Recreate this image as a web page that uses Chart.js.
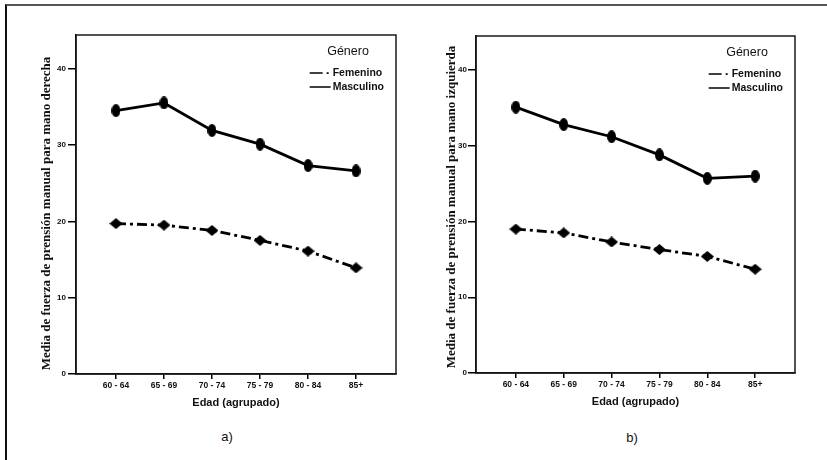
<!DOCTYPE html>
<html><head><meta charset="utf-8">
<script src="https://cdn.jsdelivr.net/npm/chart.js@4.4.0/dist/chart.umd.min.js"></script>
<style>
body{margin:0;width:827px;height:460px;background:#fff;position:relative;overflow:hidden;font-family:"Liberation Sans",Arial,sans-serif}
#frame{position:absolute;left:5px;top:4px;width:830px;height:470px;border-top:2px solid #555;border-left:2px solid #111}
.wrap{position:absolute}
.cap{position:absolute;font-size:13px;color:#111;transform:translate(-50%,-50%)}
</style></head><body>
<div id="frame"></div>
<div class="wrap" style="left:8px;top:8px;width:404px;height:412px"><canvas id="ca" width="404" height="412"></canvas></div>
<div class="wrap" style="left:416px;top:8px;width:408px;height:412px"><canvas id="cb" width="408" height="412"></canvas></div>
<div class="cap" style="left:227px;top:436px">a)</div>
<div class="cap" style="left:632px;top:437px">b)</div>
<script>
const categories = ['60 - 64','65 - 69','70 - 74','75 - 79','80 - 84','85+'];
const yTicks = [0,10,20,30,40];
const femA = [19.7,19.5,18.8,17.5,16.1,13.9];
const mascA = [34.5,35.5,31.9,30.1,27.3,26.6];
const femB = [19.0,18.5,17.3,16.3,15.4,13.7];
const mascB = [35.1,32.8,31.2,28.8,25.7,26.0];
const seriesNames = ['Femenino','Masculino'];
const legendTitle = 'Género';
const xTitle = 'Edad (agrupado)';
const yTitleA = 'Media de fuerza de prensión manual para mano derecha';
const yTitleB = 'Media de fuerza de prensión manual para mano izquierda';

function marker(w,h,shape){
  const c=document.createElement('canvas');c.width=w;c.height=h;
  const g=c.getContext('2d');g.fillStyle='#000';g.beginPath();
  if(shape==='diamond'){g.moveTo(w/2,0);g.lineTo(w,h/2);g.lineTo(w/2,h);g.lineTo(0,h/2);g.closePath();}
  else{g.ellipse(w/2,h/2,w/2,h/2,0,0,Math.PI*2);}
  g.fill();return c;
}
const diamondImg = marker(13,11,'diamond');
const ellipseImg = marker(9,13,'ellipse');

const boxPlugin = {
  id:'boxlegend',
  afterDraw(chart, args, opts){
    const {ctx, chartArea:a} = chart;
    ctx.save();
    ctx.strokeStyle='#1a1a1a'; ctx.lineWidth=1.5;
    ctx.strokeRect(a.left,a.top,a.right-a.left,a.bottom-a.top);
    // y-axis title
    ctx.save();
    ctx.translate(opts.titleX, opts.titleY);
    ctx.rotate(-Math.PI/2);
    ctx.fillStyle='#111';
    ctx.font='bold 13px "Liberation Serif", "Times New Roman", serif';
    ctx.textAlign='center'; ctx.textBaseline='middle';
    ctx.fillText(opts.text, 0, 0);
    ctx.restore();
    // legend inside plot
    ctx.fillStyle='#111';
    ctx.font='12.5px "Liberation Sans", Arial';
    ctx.textAlign='center'; ctx.textBaseline='middle';
    ctx.fillText(legendTitle, a.right-48, a.top+17);
    ctx.font='bold 10.5px "Liberation Sans", Arial';
    const tw = ctx.measureText(seriesNames[1]).width;
    const tx = a.right-12-tw;
    const sx = tx-23;
    ctx.textAlign='left';
    const rows=[a.top+38,a.top+52];
    ctx.strokeStyle='#000'; ctx.lineWidth=1.5;
    ctx.beginPath(); ctx.moveTo(sx,rows[0]); ctx.lineTo(sx+13,rows[0]); ctx.stroke();
    ctx.fillRect(sx+17,rows[0]-0.8,2,1.8);
    ctx.fillText(seriesNames[0], tx, rows[0]);
    ctx.beginPath(); ctx.moveTo(sx,rows[1]); ctx.lineTo(sx+21,rows[1]); ctx.stroke();
    ctx.fillText(seriesNames[1], tx, rows[1]);
    ctx.restore();
  }
};

function makeChart(id, fem, masc, yTitle, cfg){
  const tickFont = {family:'"Liberation Sans", Arial', size:8.5, weight:'bold'};
  return new Chart(document.getElementById(id), {
    type:'line',
    data:{datasets:[
      {label:seriesNames[0], data:fem.map((v,i)=>({x:i,y:v})), borderColor:'#000', backgroundColor:'#000',
       borderWidth:2.8, borderDash:[10,4,3,4], pointStyle:diamondImg, pointRadius:5, pointHoverRadius:5, fill:false, tension:0},
      {label:seriesNames[1], data:masc.map((v,i)=>({x:i,y:v})), borderColor:'#000', backgroundColor:'#000',
       borderWidth:2.8, pointStyle:ellipseImg, pointRadius:5, pointHoverRadius:5, fill:false, tension:0}
    ]},
    options:{
      responsive:false, animation:false, events:[],
      layout:{padding:{left:0,right:cfg.pr,top:cfg.pt,bottom:cfg.pb}},
      plugins:{legend:{display:false},tooltip:{enabled:false},
               boxlegend:{text:yTitle, titleX:cfg.tx, titleY:cfg.ty}},
      scales:{
        x:{type:'linear', min:-0.833, max:5.833,
           afterBuildTicks:s=>{s.ticks=categories.map((c,i)=>({value:i}));},
           afterFit:s=>{s.height=40;},
           ticks:{callback:(v)=>categories[v], color:'#111', font:tickFont, padding:2, maxRotation:0, autoSkip:false},
           grid:{display:true, drawOnChartArea:false, drawTicks:true, tickLength:5, color:'#000', lineWidth:1.5},
           border:{display:true, color:'#000', width:1.5},
           title:{display:true, text:xTitle, color:'#111', font:{family:'"Liberation Sans", Arial', size:11, weight:'bold'}, padding:{top:0,bottom:4.4}}
        },
        y:{type:'linear', min:0, max:cfg.max,
           afterBuildTicks:s=>{s.ticks=yTicks.map(v=>({value:v}));},
           afterFit:s=>{s.width=cfg.yw;},
           ticks:{color:'#111', font:{family:'"Liberation Sans", Arial', size:8, weight:'bold'}, padding:cfg.tpad},
           grid:{display:true, drawOnChartArea:false, drawTicks:true, tickLength:8, color:'#000', lineWidth:1.5},
           border:{display:true, color:'#000', width:1.5},
           title:{display:false}
        }
      }
    },
    plugins:[boxPlugin]
  });
}
makeChart('ca', femA, mascA, yTitleA, {pr:16, pt:27, pb:6, yw:68, max:44.4, tpad:2, tx:38.5, ty:205.5});
makeChart('cb', femB, mascB, yTitleB, {pr:29, pt:28, pb:7, yw:60, max:44.5, tpad:1, tx:36, ty:199});
</script>
</body></html>
